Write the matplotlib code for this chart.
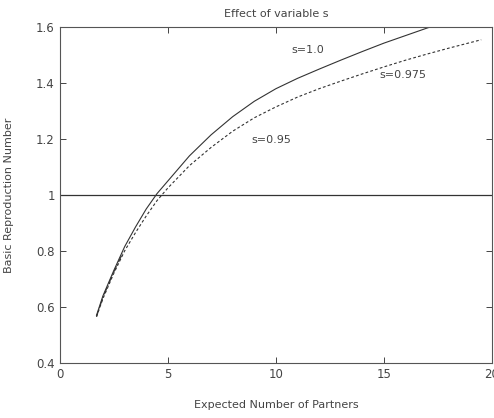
import matplotlib
matplotlib.use("Agg")
import matplotlib.pyplot as plt

x_s100 = [1.7, 2.0, 2.5, 3.0, 3.5, 4.0, 4.5, 5.0, 5.5, 6.0, 7.0, 8.0, 9.0, 10.0, 11.0, 12.0, 13.0, 14.0, 15.0, 16.0, 17.0, 18.0, 19.0, 20.0]
y_s100 = [0.57, 0.64, 0.73, 0.815, 0.885, 0.95, 1.005, 1.05, 1.095, 1.14, 1.215, 1.28, 1.335, 1.38, 1.417, 1.45, 1.482, 1.513, 1.543, 1.57, 1.597, 1.622, 1.645, 1.667]

x_s0975 = [1.7, 2.0, 2.5, 3.0, 3.5, 4.0, 4.5, 5.0, 6.0, 7.0, 8.0, 9.0, 10.0, 11.0, 12.0, 13.0, 14.0, 15.0, 16.0, 17.0, 18.0, 19.0, 19.5]
y_s0975 = [0.565, 0.63, 0.72, 0.80, 0.865, 0.925, 0.98, 1.025, 1.105, 1.17, 1.228, 1.276, 1.315, 1.35, 1.38, 1.407, 1.433, 1.458, 1.482, 1.504, 1.525, 1.545, 1.555]

x_s095 = [1.7, 2.0, 2.5, 2.9]
y_s095 = [0.565, 0.635, 0.725, 0.79]

ref_x = [0, 20]
ref_y = [1, 1]

labels = ["s=1.0", "s=0.975", "s=0.95"]
label_pos = [(10.7, 1.518), (14.8, 1.429), (8.85, 1.196)]

fig = plt.figure(figsize=(4.94, 4.18), dpi=100)
ax = fig.add_axes([0.121, 0.132, 0.875, 0.803])
lc = "#333333"
ax.plot(x_s100, y_s100, color=lc, lw=0.8, linestyle="-")
ax.plot(x_s0975, y_s0975, color=lc, lw=0.8, linestyle=(0, (2.5, 2)))
ax.plot(x_s095, y_s095, color=lc, lw=0.8, linestyle="-.")
ax.plot(ref_x, ref_y, color=lc, lw=0.9)
for t, (px, py) in zip(labels, label_pos):
    ax.text(px, py, t, fontsize=8, color="#444444", va="center", ha="left")

ax.set_xlim(0, 20)
ax.set_ylim(0.4, 1.6)
ax.set_xticks([0, 5, 10, 15, 20])
ax.set_yticks([0.4, 0.6, 0.8, 1.0, 1.2, 1.4, 1.6])
ax.set_yticklabels(["0.4", "0.6", "0.8", "1", "1.2", "1.4", "1.6"])
ax.tick_params(direction="in", top=True, right=True, labelsize=8.5, colors="#444444", length=4, width=0.7)
for sp in ax.spines.values():
    sp.set_color("#555555")
    sp.set_linewidth(0.8)
ax.set_title("Effect of variable s", fontsize=8, color="#444444", pad=7)
ax.set_xlabel("Expected Number of Partners", fontsize=8, color="#444444", labelpad=14)
ax.set_ylabel("Basic Reproduction Number", fontsize=8, color="#444444", labelpad=16)

fig.savefig("out.png", dpi=100)
